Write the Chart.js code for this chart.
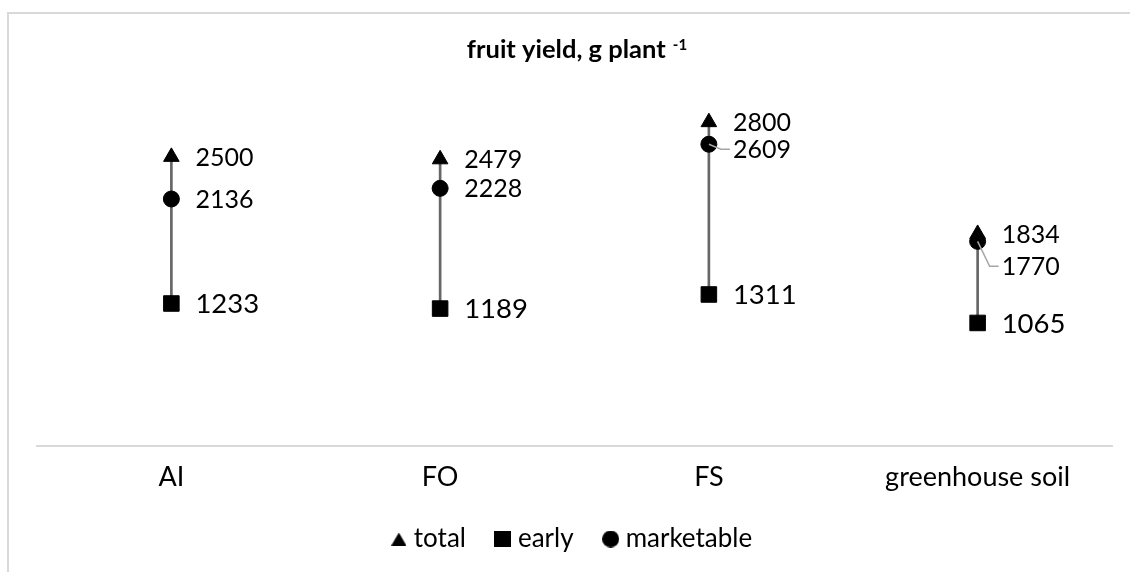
<!DOCTYPE html>
<html>
<head>
<meta charset="utf-8">
<script src="https://cdn.jsdelivr.net/npm/chart.js@4.4.1/dist/chart.umd.min.js"></script>
<style>
  html, body { margin: 0; padding: 0; background: #fff; overflow: hidden; }
  #wrap { position: relative; width: 1130px; height: 572px; }
  #frame { position: absolute; left: 7px; top: 12px; width: 1200px; height: 700px;
           border-left: 2px solid #d9d9d9; border-top: 2px solid #d9d9d9; pointer-events: none; }
</style>
</head>
<body>
<div id="wrap">
  <canvas id="chart" width="1130" height="572"></canvas>
  <div id="frame"></div>
</div>
<script>
const categories = ['AI', 'FO', 'FS', 'greenhouse soil'];
const total = [2500, 2479, 2800, 1834];
const early = [1233, 1189, 1311, 1065];
const marketable = [2136, 2228, 2609, 1770];

const FONT = 'Lato, "Open Sans", sans-serif';

// small canvas markers for the legend (chart.js scales string styles by font size)
function marker(shape, w, h) {
  const c = document.createElement('canvas');
  c.width = w; c.height = h;
  const g = c.getContext('2d');
  g.fillStyle = '#000';
  g.beginPath();
  if (shape === 'triangle') {
    g.moveTo(w / 2, 0); g.lineTo(w, h); g.lineTo(0, h); g.closePath();
  } else if (shape === 'circle') {
    g.arc(w / 2, h / 2, w / 2, 0, Math.PI * 2);
  } else {
    g.rect(0, 0, w, h);
  }
  g.fill();
  return c;
}

// values next to the points, with leader lines where excel moved the label
const valueLabels = {
  id: 'valueLabels',
  afterDatasetsDraw(chart, args, opts) {
    const ctx = chart.ctx;
    ctx.save();
    chart.data.datasets.forEach((ds, di) => {
      if (!ds.labelSize) return;
      const meta = chart.getDatasetMeta(di);
      meta.data.forEach((pt, i) => {
        const nudge = opts.nudge[di + '-' + i] || 0;
        const lx = pt.x + 24, ly = pt.y + nudge;
        if (nudge > 3) {
          ctx.strokeStyle = '#a6a6a6';
          ctx.lineWidth = 1.5;
          ctx.beginPath();
          ctx.moveTo(pt.x, pt.y);
          ctx.lineTo(lx - 12, ly);
          ctx.lineTo(lx - 3, ly);
          ctx.stroke();
        }
        ctx.fillStyle = '#000';
        ctx.font = ds.labelSize + 'px ' + FONT;
        ctx.textAlign = 'left';
        ctx.textBaseline = 'middle';
        ctx.fillText(String(ds.data[i]), lx, ly + 1);
      });
    });
    ctx.restore();
  }
};

// bold title with a superscript unit
const titleSup = {
  id: 'titleSup',
  afterDraw(chart) {
    const ctx = chart.ctx;
    const main = 'fruit yield, g plant ', sup = '-1';
    ctx.save();
    ctx.fillStyle = '#000';
    ctx.textBaseline = 'alphabetic';
    ctx.font = 'bold 25.5px ' + FONT;
    const w1 = ctx.measureText(main).width;
    ctx.font = 'bold 15px ' + FONT;
    const w2 = ctx.measureText(sup).width;
    const x0 = (chart.chartArea.left + chart.chartArea.right) / 2 - (w1 + w2) / 2 + 2;
    ctx.font = 'bold 25.5px ' + FONT;
    ctx.fillText(main, x0, 58);
    ctx.font = 'bold 15px ' + FONT;
    ctx.fillText(sup, x0 + w1 + 1, 50);
    ctx.restore();
  }
};

new Chart(document.getElementById('chart'), {
  data: {
    labels: categories,
    datasets: [
      {
        type: 'bar',
        label: 'range',
        data: early.map((e, i) => [e, total[i]]),
        backgroundColor: '#666666',
        barThickness: 2,
        order: 5,
      },
      {
        type: 'line',
        label: 'total',
        data: total,
        showLine: false,
        pointStyle: 'triangle',
        pointRadius: 9,
        pointHoverRadius: 9,
        backgroundColor: '#000',
        borderColor: '#000',
        labelSize: 25,
        legendMarker: marker('triangle', 15, 13),
        order: 1,
      },
      {
        type: 'line',
        label: 'early',
        data: early,
        showLine: false,
        pointStyle: 'rect',
        pointRadius: 11,
        pointHoverRadius: 11,
        backgroundColor: '#000',
        borderColor: '#000',
        labelSize: 27.5,
        legendMarker: marker('rect', 17, 16),
        order: 1,
      },
      {
        type: 'line',
        label: 'marketable',
        data: marketable,
        showLine: false,
        pointStyle: 'circle',
        pointRadius: 8,
        pointHoverRadius: 8,
        backgroundColor: '#000',
        borderColor: '#000',
        labelSize: 25,
        legendMarker: marker('circle', 17, 17),
        order: 0,
      },
    ],
  },
  options: {
    responsive: false,
    animation: false,
    layout: { padding: { left: 37, right: 18, top: 99, bottom: 10 } },
    scales: {
      x: {
        grid: { display: false },
        border: { display: true, color: '#d9d9d9', width: 2 },
        ticks: { color: '#000', font: { family: FONT, size: 27 }, padding: 7, maxRotation: 0 },
        afterFit(scale) { scale.height -= 9.6; },
      },
      y: { display: false, min: 0, max: 3000 },
    },
    plugins: {
      title: { display: false },
      tooltip: { enabled: false },
      legend: {
        position: 'bottom',
        labels: {
          usePointStyle: true,
          boxWidth: 4,
          boxHeight: 16,
          padding: 35,
          color: '#000',
          font: { family: FONT, size: 26 },
          generateLabels: chart => chart.data.datasets
            .map((ds, i) => ({
              text: ds.label,
              pointStyle: ds.legendMarker,
              fillStyle: '#000',
              strokeStyle: '#000',
              lineWidth: 0,
              hidden: false,
              datasetIndex: i,
            }))
            .filter(l => l.pointStyle),
        },
      },
      valueLabels: { nudge: { '3-2': 5, '3-3': 25 } },
    },
  },
  plugins: [valueLabels, titleSup],
});
</script>
</body>
</html>
